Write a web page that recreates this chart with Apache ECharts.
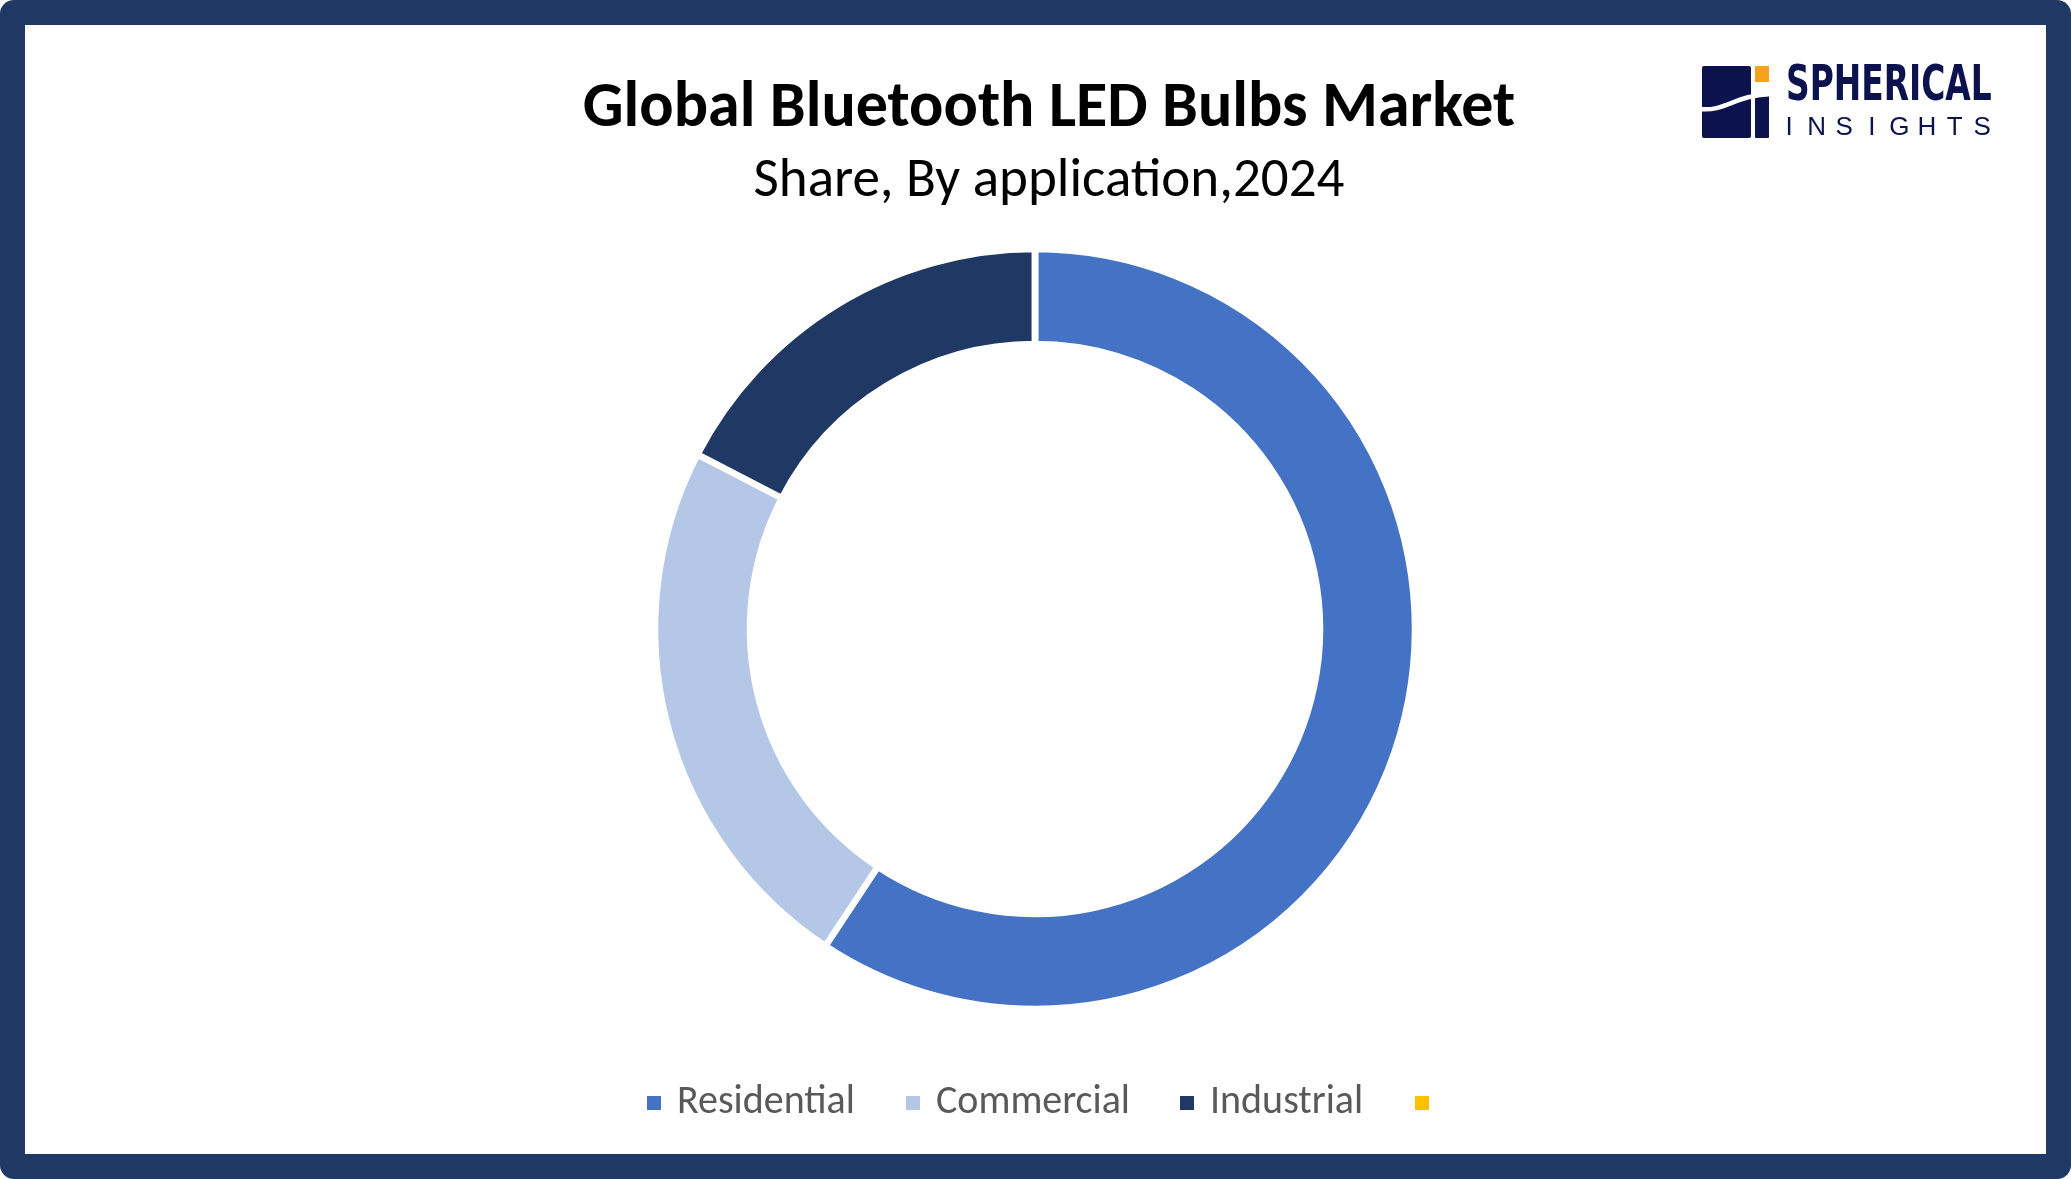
<!DOCTYPE html>
<html>
<head>
<meta charset="utf-8">
<script src="https://cdn.jsdelivr.net/npm/echarts@6/dist/echarts.min.js"></script>
<style>
html,body{margin:0;padding:0;background:#fff;}
#chart{width:2071px;height:1179px;}
</style>
</head>
<body>
<div id="chart"></div>
<script>
// ---- data ----
const titleText = 'Global Bluetooth LED Bulbs Market';
const subtitleText = 'Share, By application,2024';
const categories = ['Residential', 'Commercial', 'Industrial', ' '];
const shares = [59.3, 23.3, 17.4, 0];
const sliceColors = ['#4472C4', '#B4C7E7', '#203864', '#FFC000'];
const logoWord = 'SPHERICAL';
const logoSub = 'INSIGHTS';

const FONT = 'Carlito, Calibri, Lato, sans-serif';
const LOGO_NAVY = '#0C124D';
const chart = echarts.init(document.getElementById('chart'), null, {renderer: 'canvas'});

const legendLefts = [647, 906, 1180, 1415];
const legends = categories.map((c, i) => ({
  data: [c],
  left: legendLefts[i],
  top: 1083,
  padding: 0,
  orient: 'horizontal',
  itemWidth: 14,
  itemHeight: 14,
  icon: 'rect',
  selectedMode: false,
  itemStyle: {borderWidth: 0, borderColor: 'transparent'},
  textStyle: {fontFamily: FONT, fontSize: 40, color: '#595959', padding: [0, 0, 0, 11]}
}));

const logoLetters = logoSub.split('').map((ch, i) => ({
  type: 'text',
  x: 1789 + i * 27.6,
  y: 128,
  z: 5,
  style: {text: ch, fontFamily: 'Liberation Sans, sans-serif', fontSize: 26, fill: LOGO_NAVY,
          textAlign: 'center', textVerticalAlign: 'middle'}
}));

const option = {
  animation: false,
  backgroundColor: 'transparent',
  graphic: {
    elements: [
      {type: 'rect', z: -10, shape: {x: 0, y: 0, width: 2071, height: 1179, r: 14}, style: {fill: '#1F3864'}},
      {type: 'rect', z: -9, shape: {x: 25, y: 25, width: 2021, height: 1129}, style: {fill: '#ffffff'}},
      {type: 'text', x: 1049, y: 110, z: 5,
        style: {text: titleText, fontFamily: FONT, fontWeight: 'bold', fontSize: 64, fill: '#000000',
                textAlign: 'center', textVerticalAlign: 'middle'}},
      {type: 'text', x: 1049, y: 182, z: 5,
        style: {text: subtitleText, fontFamily: FONT, fontSize: 55, fill: '#000000',
                textAlign: 'center', textVerticalAlign: 'middle'}},
      // logo
      {type: 'rect', z: 5, shape: {x: 1702, y: 66, width: 49, height: 72, r: 2}, style: {fill: LOGO_NAVY}},
      {type: 'rect', z: 5, shape: {x: 1755, y: 66, width: 14, height: 16}, style: {fill: '#F5A31A'}},
      {type: 'rect', z: 5, shape: {x: 1755, y: 94, width: 14, height: 44, r: 1}, style: {fill: LOGO_NAVY}},
      {type: 'bezierCurve', z: 6,
        shape: {x1: 1699, y1: 109, cpx1: 1726, cpy1: 112, cpx2: 1734, cpy2: 95, x2: 1772, y2: 94},
        style: {stroke: '#ffffff', lineWidth: 4.5, fill: null}},
      {type: 'text', x: 1786, y: 87, z: 5, scaleX: 0.73,
        style: {text: logoWord, fontFamily: '"Liberation Sans Narrow", "DejaVu Sans Condensed", sans-serif',
                fontWeight: 'bold', fontSize: 50, fill: LOGO_NAVY, textAlign: 'left', textVerticalAlign: 'middle'}}
    ].concat(logoLetters)
  },
  legend: legends,
  series: [{
    type: 'pie',
    center: [1035, 629],
    radius: [285, 380],
    startAngle: 90,
    clockwise: true,
    label: {show: false},
    labelLine: {show: false},
    emphasis: {disabled: true},
    itemStyle: {borderColor: '#ffffff', borderWidth: 6.5},
    data: categories.map((c, i) => ({name: c, value: shares[i], itemStyle: {color: sliceColors[i]}}))
  }]
};
chart.setOption(option);
</script>
</body>
</html>
